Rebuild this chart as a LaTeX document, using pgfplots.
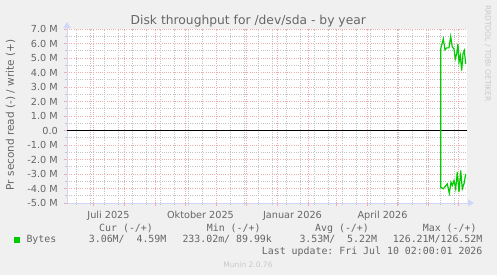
\documentclass[border=0pt]{standalone}
\usepackage{pgfplots}
\pgfplotsset{compat=1.18}
\usepackage{fontspec}
\setmainfont{DejaVu Sans}
\setmonofont{DejaVu Sans Mono}
\usetikzlibrary{arrows.meta}
\definecolor{bgc}{HTML}{F0F0F0}
\definecolor{fontc}{HTML}{666666}
\definecolor{axisc}{HTML}{CFD6F8}
\definecolor{mgrid}{HTML}{EDAEAE}
\definecolor{mingrid}{HTML}{C4C4C4}
\definecolor{munin}{HTML}{00CC00}
\definecolor{wm}{HTML}{C8C8C8}
\begin{document}
\begin{tikzpicture}
\fill[bgc] (0,0) rectangle (497bp,-275bp);
\begin{axis}[
  at={(67bp,-203bp)}, anchor=south west,
  scale only axis, width=400bp, height=174bp,
  xmin=-26, xmax=374, ymin=-5, ymax=7,
  axis background/.style={fill=white},
  axis lines=left,
  axis line style={draw=axisc, line width=1bp},
  x axis line style={-{Triangle[length=6bp,width=7bp]}, shorten >=-7bp},
  y axis line style={-{Triangle[length=6bp,width=7bp]}, shorten >=-7bp},
  tick align=outside,
  major tick length=3bp, minor tick length=2bp,
  ytick={-5,-4,...,7},
  yticklabels={-5.0 M,-4.0 M,-3.0 M,-2.0 M,-1.0 M,0.0,1.0 M,2.0 M,3.0 M,4.0 M,5.0 M,6.0 M,7.0 M},
  minor ytick={-4.5,-3.5,...,6.5},
  xtick={15.5,107.5,199.5,289.5},
  xticklabels={Juli 2025,Oktober 2025,Januar 2026,April 2026},
  minor xtick={-17,-3,...,361},
  extra x ticks={0,31,62,92,123,153,184,215,243,274,304,335,365},
  extra x tick labels={},
  extra x tick style={xmajorgrids=true, major x tick style={draw=mgrid, line width=1bp}},
  major x tick style={draw=none},
  major y tick style={draw=mgrid, line width=1bp},
  minor tick style={draw=mingrid, line width=1bp},
  xmajorgrids=false, xminorgrids=true, ymajorgrids=true, yminorgrids=true,
  major grid style={draw=mgrid, line width=0.9bp, dash pattern=on 1bp off 1.2bp},
  minor grid style={draw=mingrid, line width=0.9bp, dash pattern=on 1bp off 1.2bp},
  ticklabel style={font=\fontsize{9.7bp}{11bp}\selectfont, text=fontc, inner sep=0pt},
  yticklabel style={anchor=east, xshift=-6bp},
  xticklabel style={anchor=base, yshift=-12bp},
  clip=true,
]
\addplot[black, line width=1bp] coordinates {(-26,0) (374,0)};
\addplot[munin, line width=1.2bp] coordinates {
(347.7,0) (347.7,5.63) (350.3,6.32) (352,5.56) (353.7,5.70) (356,5.70)
(357.7,6.48) (359.3,5.75) (361,5.63) (362.3,4.94) (363.7,5.29) (365,5.98)
(366,4.71) (367.3,5.17) (368.7,4.14) (370,5.29) (371.3,5.52) (372.7,4.60)};
\addplot[munin, line width=1.2bp] coordinates {
(347.7,0) (347.7,-3.95) (348.7,-3.95) (350.3,-4.02) (353,-3.79) (354.3,-3.68)
(356.3,-4.32) (358,-3.56) (359.3,-3.79) (361,-3.45) (362.7,-4.02) (364.3,-2.87)
(366,-4.25) (367.7,-2.76) (369.3,-4.02) (371,-3.68) (372.7,-2.99)};
\end{axis}
% title and labels
\node[text=fontc, font=\fontsize{12.3bp}{14bp}\selectfont, anchor=base, inner sep=0] at (248.3bp,-24bp) {Disk throughput for /dev/sda - by year};
\node[text=fontc, font=\fontsize{10.5bp}{12bp}\selectfont, rotate=90, inner sep=0] at (10.5bp,-115bp) {Pr second read (-) / write (+)};
\node[text=wm, font=\fontsize{7.5bp}{9bp}\selectfont, rotate=-90, inner sep=0] at (487.7bp,-53.4bp) {RRDTOOL / TOBI OETIKER};
% legend
\begin{scope}[every node/.style={text=fontc, font=\ttfamily\fontsize{9.9bp}{11bp}\selectfont, anchor=base west, inner sep=0}]
\node at (99bp,-231bp) {Cur\ (-/+)};
\node at (206.7bp,-231bp) {Min\ (-/+)};
\node at (315bp,-231bp) {Avg\ (-/+)};
\node at (422.7bp,-231bp) {Max\ (-/+)};
\node at (26.3bp,-242.5bp) {Bytes};
\node at (88.7bp,-242.5bp) {3.06M/\ \ 4.59M};
\node at (182.3bp,-242.5bp) {233.02m/\ 89.99k};
\node at (299.3bp,-242.5bp) {3.53M/\ \ 5.22M};
\node at (392.7bp,-242.5bp) {126.21M/126.52M};
\node at (261.7bp,-254bp) {Last\ update:\ Fri\ Jul\ 10\ 02:00:01\ 2026};
\end{scope}
\fill[munin] (13.5bp,-236.5bp) rectangle (19.5bp,-242.5bp);
\node[text=wm, font=\fontsize{7.5bp}{9bp}\selectfont, inner sep=0, anchor=base] at (248bp,-267bp) {Munin 2.0.76};
\end{tikzpicture}
\end{document}
